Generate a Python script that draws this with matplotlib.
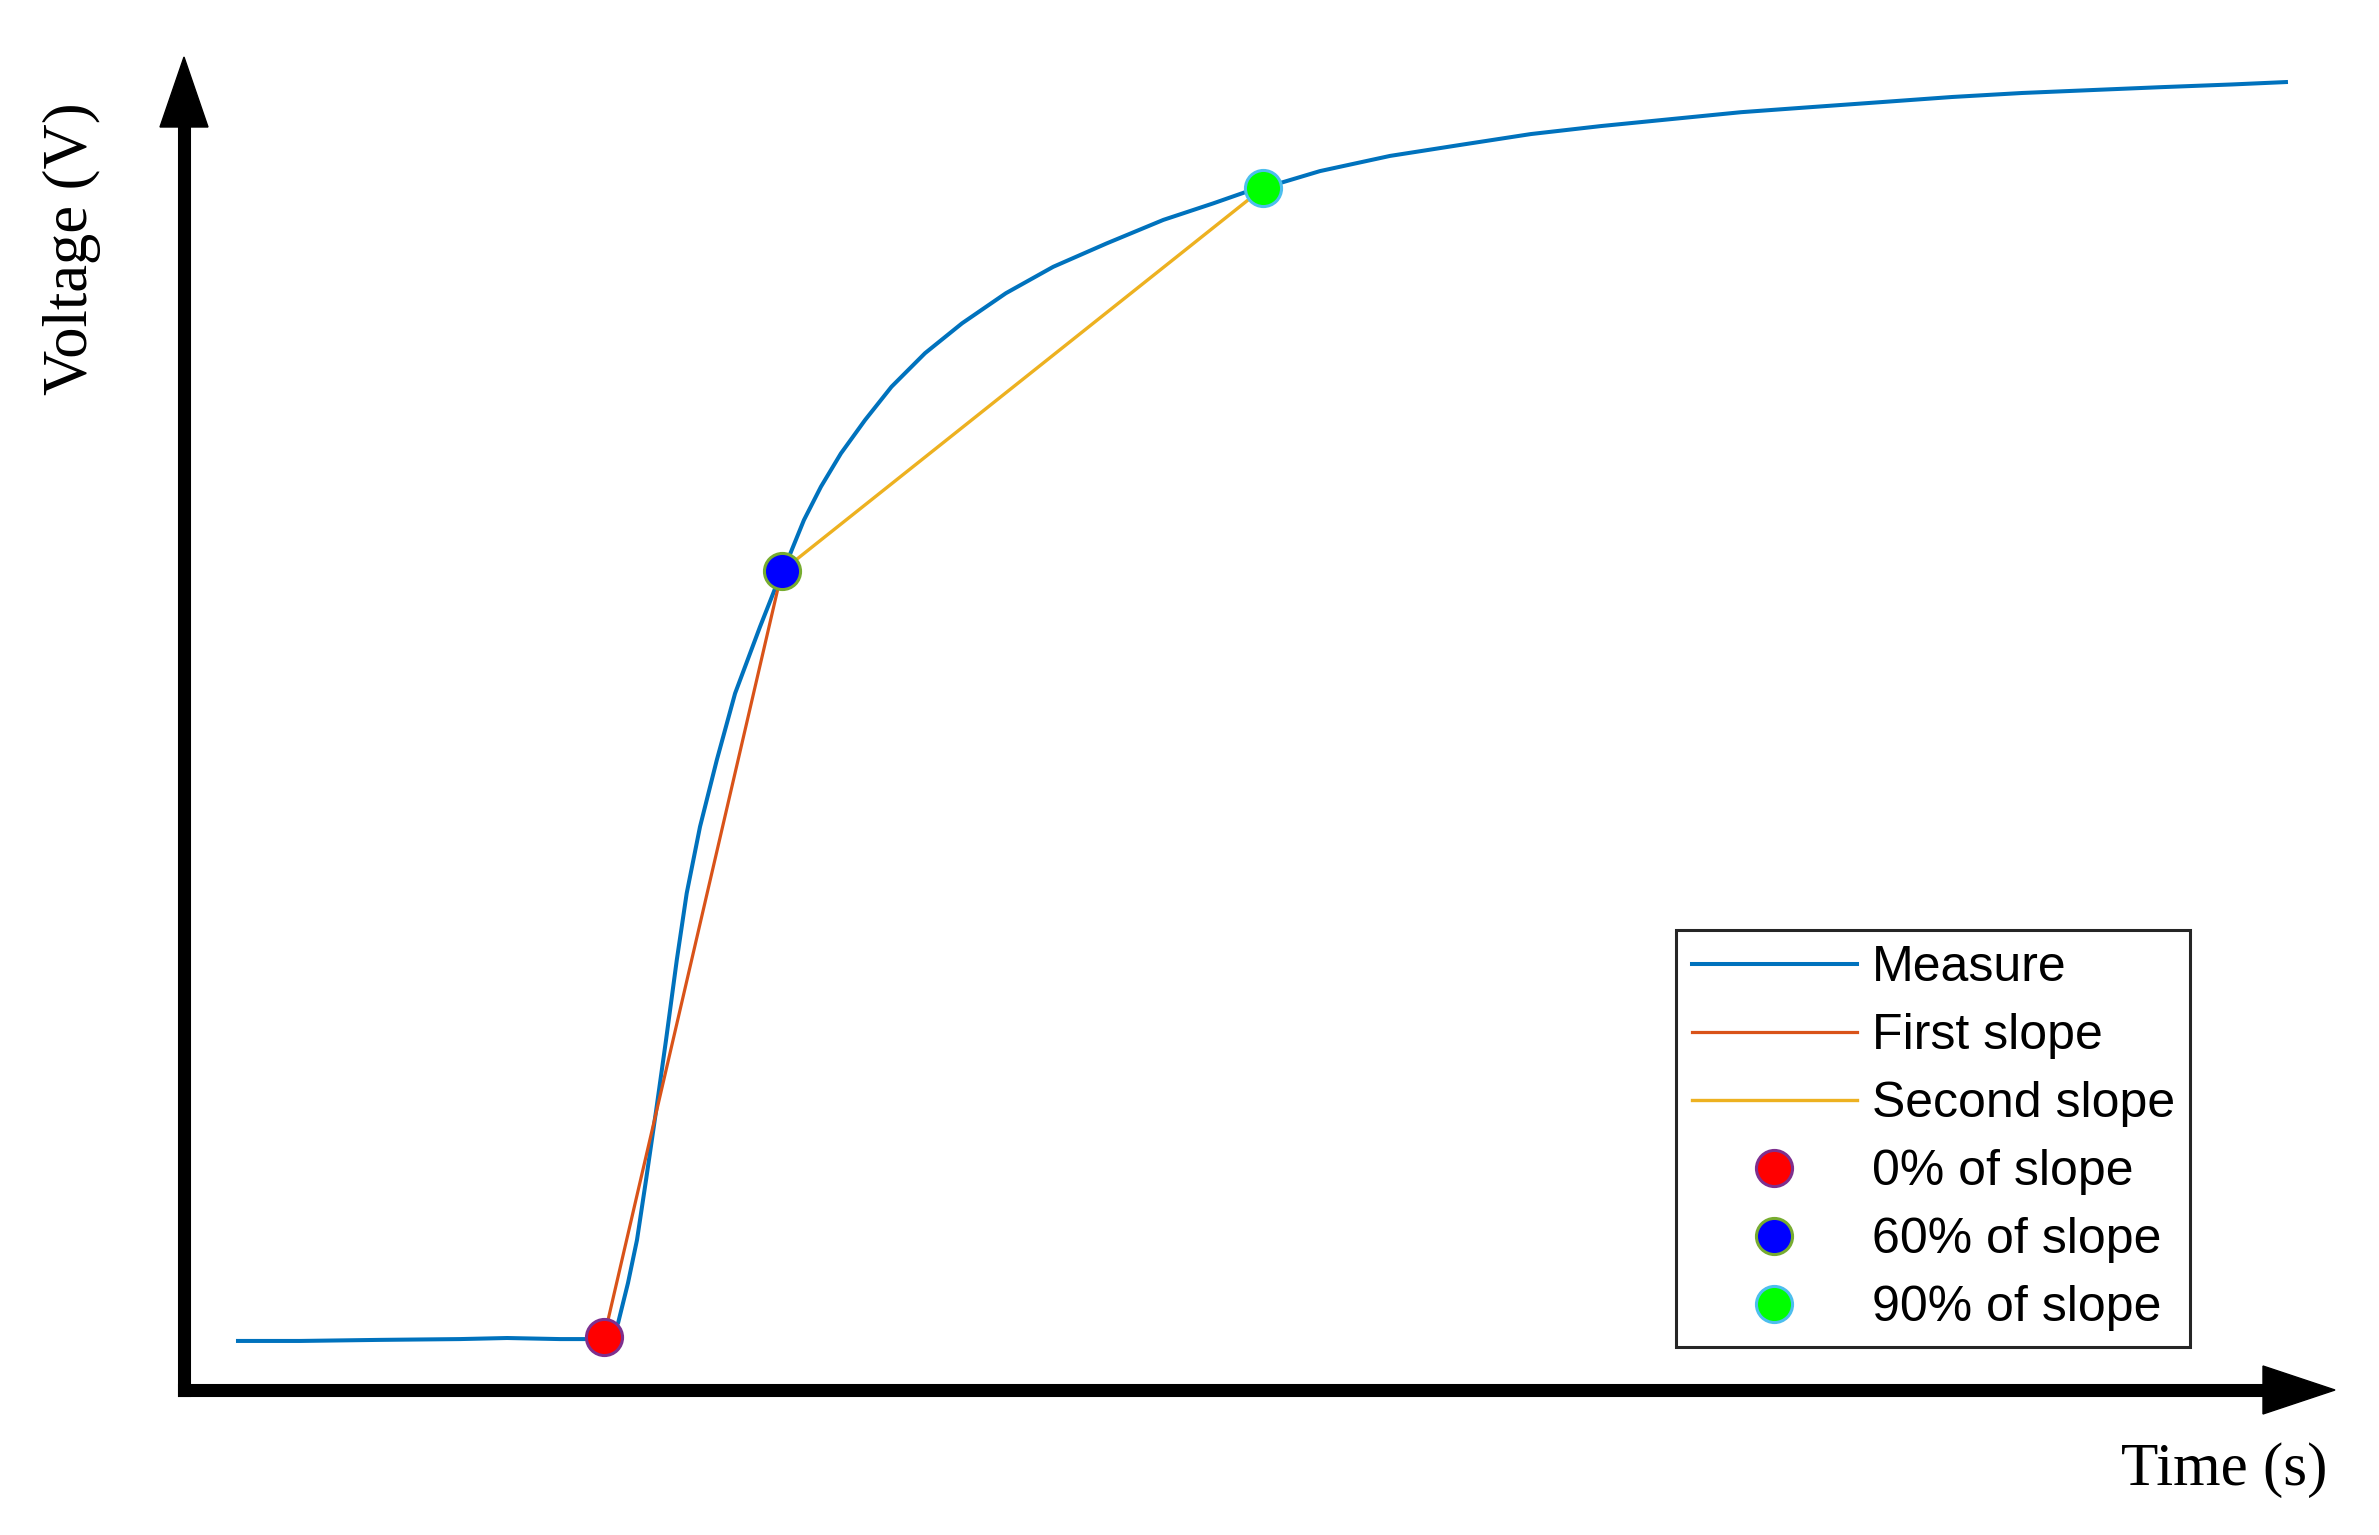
import matplotlib
matplotlib.use("Agg")
import matplotlib.pyplot as plt
from matplotlib.patches import Polygon

# ---- data (time in ms, voltage in V) ----
time_ms = [25.1, 53.9, 91.1, 128.3, 150.2, 174.8, 191.1, 195.3, 199.0, 201.8,
           206.4, 210.6, 214.8, 219.4, 224.1, 229.1, 233.7, 239.9, 247.7, 256.2,
           267.8, 272.4, 278.0, 281.9, 288.2, 296.1, 305.4, 316.6, 328.9, 344.5,
           361.7, 382.1, 404.1, 429.0, 455.3, 478.5, 494.1, 501.6, 528.1, 560.7,
           593.2, 626.2, 658.8, 691.3, 723.9, 756.4, 789.4, 822.0, 854.5, 887.0,
           919.6, 952.1, 977.2]
voltage = [0.184, 0.184, 0.188, 0.191, 0.195, 0.191, 0.191, 0.199, 0.218, 0.251,
           0.401, 0.563, 0.788, 1.043, 1.313, 1.613, 1.863, 2.113, 2.363, 2.613,
           2.863, 2.957, 3.072, 3.138, 3.263, 3.388, 3.513, 3.638, 3.763, 3.889,
           4.001, 4.114, 4.213, 4.301, 4.389, 4.451, 4.495, 4.508, 4.572, 4.629,
           4.670, 4.711, 4.741, 4.767, 4.793, 4.812, 4.831, 4.850, 4.865, 4.876,
           4.887, 4.897, 4.906]

pt_time = [195.3, 278.0, 501.6]      # 0 %, 60 %, 90 % of slope
pt_volt = [0.199, 3.072, 4.508]
pt_labels = ["0% of slope", "60% of slope", "90% of slope"]
line_labels = ["Measure", "First slope", "Second slope"]

# ---- style ----
c_meas = "#0072BD"
c_first = "#D95319"
c_second = "#EDB120"
pt_face = ["#FF0000", "#0000FF", "#00FF00"]
pt_edge = ["#7E2F8E", "#77AC30", "#4DBEEE"]

W, H = 2379, 1535
fig = plt.figure(figsize=(W / 100, H / 100), dpi=100)
ax = fig.add_axes([184 / W, (H - 1390) / H, (2335 - 184) / W, (1390 - 57) / H])
ax.set_xlim(0, 1000)
ax.set_ylim(0, 5)
ax.axis("off")

ax.plot(time_ms, voltage, color=c_meas, lw=2.9, label=line_labels[0], zorder=3,
        solid_joinstyle="round")
ax.plot(pt_time[0:2], pt_volt[0:2], color=c_first, lw=2.3, label=line_labels[1], zorder=4)
ax.plot(pt_time[1:3], pt_volt[1:3], color=c_second, lw=2.4, label=line_labels[2], zorder=4)
for i in range(3):
    ax.plot(pt_time[i], pt_volt[i], linestyle="none", marker="o", ms=26,
            mfc=pt_face[i], mec=pt_edge[i], mew=2.2, label=pt_labels[i], zorder=5)

# ---- arrow axes ----
axw = 2335 - 184
axh = 1390 - 57
lw_ax = 9.4
head_len_x = 72 / axw
head_hw_y = 24 / axh
head_len_y = 70 / axh
head_hw_x = 24 / axw
ax.plot([0, 1 - head_len_x], [0, 0], color="black", lw=lw_ax,
        transform=ax.transAxes, clip_on=False, solid_capstyle="projecting")
ax.plot([0, 0], [0, 1 - head_len_y], color="black", lw=lw_ax,
        transform=ax.transAxes, clip_on=False, solid_capstyle="projecting")
ax.add_patch(Polygon([[1 - head_len_x, -head_hw_y], [1, 0], [1 - head_len_x, head_hw_y]],
                     closed=True, color="black", transform=ax.transAxes, clip_on=False))
ax.add_patch(Polygon([[-head_hw_x, 1 - head_len_y], [0, 1], [head_hw_x, 1 - head_len_y]],
                     closed=True, color="black", transform=ax.transAxes, clip_on=False))

# ---- axis labels ----
fig.text(72 / W, 1 - 249 / H, "Voltage (V)", rotation=90, ha="center", va="center",
         fontsize=45, family="Liberation Serif")
fig.text(2224 / W, 1 - 1470 / H, "Time (s)", ha="center", va="center",
         fontsize=44, family="Liberation Serif")

# ---- legend ----
leg = ax.legend(loc="lower left", bbox_to_anchor=((1676 - 184) / axw, (1390 - 1346.5) / axh),
                borderaxespad=0, fancybox=False, framealpha=1, edgecolor="#262626",
                prop={"family": "Liberation Sans", "size": 36},
                handlelength=3.3, handletextpad=0.30, labelspacing=0.44,
                borderpad=0.31, markerscale=1.0)
leg.get_frame().set_linewidth(2.2)

fig.savefig("out.png", dpi=100, facecolor="white")
